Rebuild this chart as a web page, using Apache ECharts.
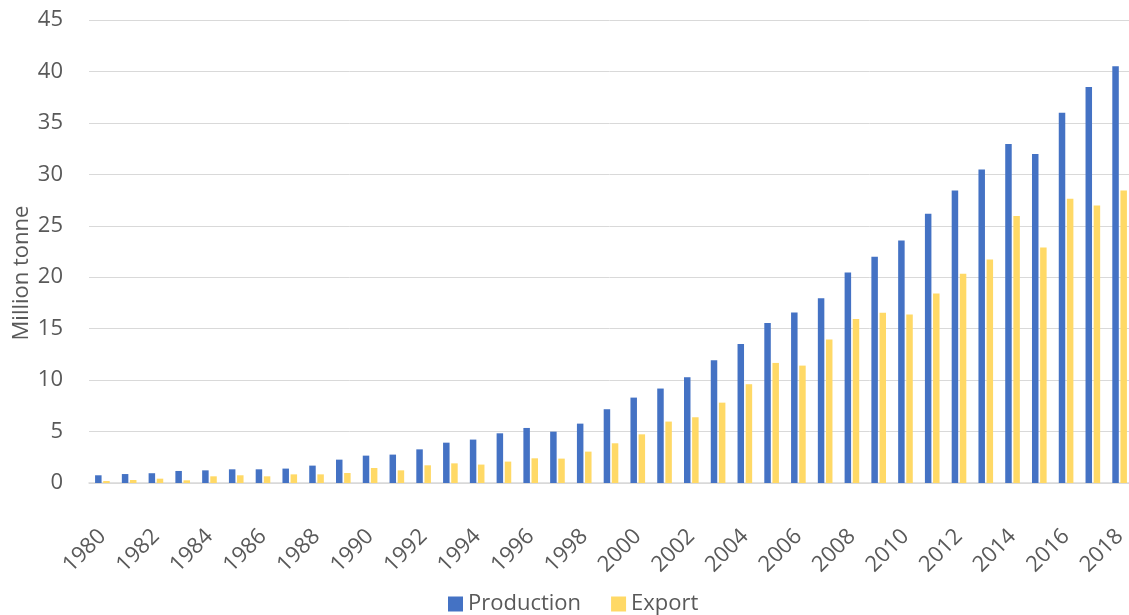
<!DOCTYPE html>
<html>
<head>
<meta charset="utf-8">
<script src="https://cdn.jsdelivr.net/npm/echarts@6/dist/echarts.min.js"></script>
<style>
html,body{margin:0;padding:0;background:#fff;}
#chart{width:1129px;height:615px;}
</style>
</head>
<body>
<div id="chart"></div>
<script>
const years = ['1980','1981','1982','1983','1984','1985','1986','1987','1988','1989','1990','1991','1992','1993','1994','1995','1996','1997','1998','1999','2000','2001','2002','2003','2004','2005','2006','2007','2008','2009','2010','2011','2012','2013','2014','2015','2016','2017','2018'];
const production = [0.75,0.87,0.95,1.17,1.23,1.33,1.33,1.4,1.69,2.27,2.66,2.76,3.27,3.92,4.22,4.83,5.35,4.99,5.77,7.17,8.3,9.18,10.28,11.93,13.52,15.56,16.56,17.96,20.46,21.98,23.57,26.17,28.44,30.48,32.94,31.97,35.99,38.49,40.5];
const exportVals = [0.19,0.29,0.42,0.26,0.65,0.75,0.65,0.84,0.84,0.97,1.46,1.23,1.72,1.91,1.79,2.08,2.4,2.37,3.05,3.86,4.73,5.97,6.39,7.81,9.6,11.67,11.41,13.94,15.95,16.54,16.37,18.42,20.33,21.72,25.94,22.89,27.63,26.98,28.44];
const yTitle = 'Million tonne';

const chart = echarts.init(document.getElementById('chart'));
const font = 'Open Sans';
chart.setOption({
  animation: false,
  textStyle: {fontFamily: font},
  grid: {left: 89, right: -4, top: 20, bottom: 132, containLabel: false, outerBoundsMode: 'none'},
  legend: {
    data: ['Production','Export'],
    left: 443, top: 588,
    icon: 'rect', itemWidth: 15, itemHeight: 15, itemGap: 30,
    textStyle: {fontFamily: font, fontSize: 22, color: '#595959'}
  },
  xAxis: {
    type: 'category',
    data: years,
    axisLine: {lineStyle: {color: '#d9d9d9', width: 1.5}},
    axisTick: {show: false},
    axisLabel: {interval: 1, rotate: 45, fontSize: 22, color: '#595959', margin: 50, fontFamily: font}
  },
  yAxis: {
    type: 'value',
    min: 0, max: 45, interval: 5,
    axisLine: {show: false},
    axisTick: {show: false},
    splitLine: {lineStyle: {color: '#d9d9d9', width: 1}},
    axisLabel: {fontSize: 22, color: '#595959', margin: 26, fontFamily: font}
  },
  graphic: [{
    type: 'text',
    x: 22, y: 273,
    rotation: Math.PI / 2,
    style: {text: yTitle, fontFamily: font, fontSize: 22, fill: '#595959', align: 'center', verticalAlign: 'middle'}
  }],
  series: [
    {name: 'Production', type: 'bar', data: production, barWidth: 6.5, barGap: '25%', itemStyle: {color: '#4472C4'}},
    {name: 'Export', type: 'bar', data: exportVals, barWidth: 6.5, itemStyle: {color: '#FFD966'}}
  ]
});
</script>
</body>
</html>
